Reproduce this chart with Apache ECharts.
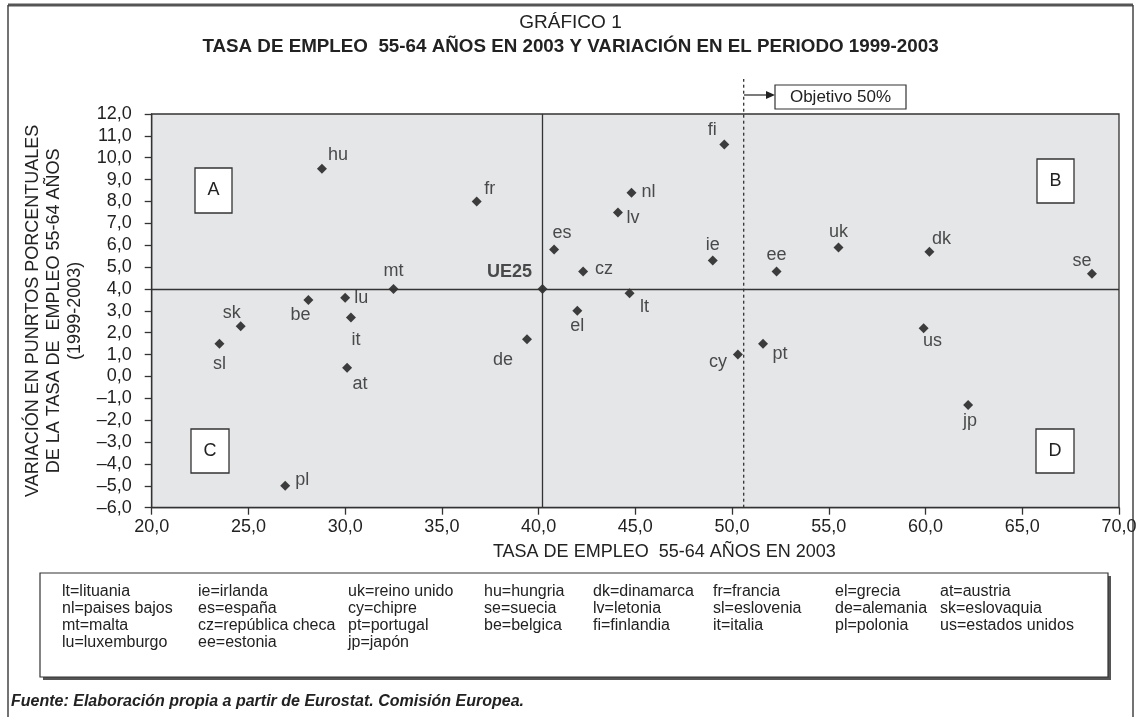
<!DOCTYPE html>
<html>
<head>
<meta charset="utf-8">
<script src="https://cdn.jsdelivr.net/npm/echarts@6/dist/echarts.min.js"></script>
<style>
html, body { margin: 0; padding: 0; background: #fff; }
#main { width: 1141px; height: 717px; }
</style>
</head>
<body>
<div id="main"></div>
<script>
// datos
var codes = ['hu', 'fr', 'mt', 'be', 'lu', 'sk', 'sl', 'it', 'at', 'de', 'pl',
             'fi', 'nl', 'lv', 'es', 'cz', 'ie', 'ee', 'uk', 'dk', 'se',
             'lt', 'el', 'cy', 'pt', 'us', 'jp'];
var tasaEmpleo2003 = [28.8, 36.8, 32.5, 28.1, 30.0, 24.6, 23.5, 30.3, 30.1, 39.4, 26.9,
                      49.6, 44.8, 44.1, 40.8, 42.3, 49.0, 52.3, 55.5, 60.2, 68.6,
                      44.7, 42.0, 50.3, 51.6, 59.9, 62.2];
var variacion9903 = [9.5, 8.0, 4.0, 3.5, 3.6, 2.3, 1.5, 2.7, 0.4, 1.7, -5.0,
                     10.6, 8.4, 7.5, 5.8, 4.8, 5.3, 4.8, 5.9, 5.7, 4.7,
                     3.8, 3.0, 1.0, 1.5, 2.2, -1.3];
var ue25 = [40.2, 4.0];
var objetivo = 50.6;

var legendRows = [
    ['lt=lituania', 'ie=irlanda', 'uk=reino unido', 'hu=hungria', 'dk=dinamarca', 'fr=francia', 'el=grecia', 'at=austria'],
    ['nl=paises bajos', 'es=españa', 'cy=chipre', 'se=suecia', 'lv=letonia', 'sl=eslovenia', 'de=alemania', 'sk=eslovaquia'],
    ['mt=malta', 'cz=república checa', 'pt=portugal', 'be=belgica', 'fi=finlandia', 'it=italia', 'pl=polonia', 'us=estados unidos'],
    ['lu=luxemburgo', 'ee=estonia', 'jp=japón']
];

// desplazamiento de cada etiqueta respecto al punto (px)
var labelOffset = {
    hu: [16, -14], fr: [13, -12], mt: [0, -18], be: [-8, 15], lu: [16, 0],
    sk: [-9, -13], sl: [0, 20], it: [5, 23], at: [13, 16], de: [-24, 21],
    pl: [17, -6], fi: [-12, -15], nl: [17, -1], lv: [15, 6], es: [8, -17],
    cz: [21, -2], ie: [0, -16], ee: [0, -16], uk: [0, -15], dk: [12, -13],
    se: [-10, -13], lt: [15, 14], el: [0, 15], cy: [-20, 7], pt: [17, 10],
    us: [9, 13], jp: [2, 16]
};

var FONT = '"Liberation Sans", Arial, Helvetica, sans-serif';
var INK = '#222';

function fmt(v) {
    return v.toFixed(1).replace('.', ',').replace('-', '\u2013');
}

var points = [];
for (var i = 0; i < codes.length; i++) {
    points.push({
        name: codes[i],
        value: [tasaEmpleo2003[i], variacion9903[i]],
        label: { offset: labelOffset[codes[i]] }
    });
}

function quadBox(x, y, w, h, letter) {
    return [
        { type: 'rect', shape: { x: x, y: y, width: w, height: h },
          style: { fill: '#fff', stroke: '#333', lineWidth: 1.3 }, z: 10 },
        { type: 'text', x: x + w / 2, y: y + h / 2, z: 11,
          style: { text: letter, fill: INK, font: '18px ' + FONT,
                   align: 'center', verticalAlign: 'middle',
                   textAlign: 'center', textVerticalAlign: 'middle' } }
    ];
}

var colX = [62, 198, 348, 484, 593, 713, 835, 940];
var rowY = [592, 609, 626, 643];
var legendTexts = [];
for (var r = 0; r < legendRows.length; r++) {
    for (var c = 0; c < legendRows[r].length; c++) {
        legendTexts.push({
            type: 'text', x: colX[c], y: rowY[r], z: 11,
            style: { text: legendRows[r][c], fill: INK, font: '16px ' + FONT,
                     verticalAlign: 'middle', textVerticalAlign: 'middle' }
        });
    }
}

var graphics = [
    // marco
    { type: 'line', shape: { x1: 8, y1: 5, x2: 1133, y2: 5 }, style: { stroke: '#555', lineWidth: 3 } },
    { type: 'line', shape: { x1: 8, y1: 5, x2: 8, y2: 717 }, style: { stroke: '#444', lineWidth: 1.5 } },
    { type: 'line', shape: { x1: 1133, y1: 5, x2: 1133, y2: 717 }, style: { stroke: '#444', lineWidth: 1.5 } },
    // objetivo 50%
    { type: 'line', shape: { x1: 744, y1: 95, x2: 768, y2: 95 }, style: { stroke: INK, lineWidth: 1.2 } },
    { type: 'polygon', shape: { points: [[775, 95], [766, 91], [766, 99]] }, style: { fill: INK } },
    { type: 'rect', shape: { x: 775, y: 85, width: 131, height: 24 },
      style: { fill: '#fff', stroke: '#333', lineWidth: 1.2 } },
    { type: 'text', x: 840.5, y: 97.5,
      style: { text: 'Objetivo 50%', fill: INK, font: '17px ' + FONT,
               align: 'center', verticalAlign: 'middle',
               textAlign: 'center', textVerticalAlign: 'middle' } },
    // cuadro de leyenda
    { type: 'rect', shape: { x: 43, y: 576, width: 1068, height: 104 }, style: { fill: '#555' }, z: 9 },
    { type: 'rect', shape: { x: 40, y: 573, width: 1068, height: 104 },
      style: { fill: '#fff', stroke: '#333', lineWidth: 1.2 }, z: 10 },
    // fuente
    { type: 'text', x: 11, y: 702,
      style: { text: 'Fuente: Elaboración propia a partir de Eurostat. Comisión Europea.',
               fill: INK, font: 'italic bold 16px ' + FONT,
               verticalAlign: 'middle', textVerticalAlign: 'middle' } }
].concat(quadBox(195, 168, 37, 45, 'A'), quadBox(1037, 159, 37, 44, 'B'),
         quadBox(191, 429, 38, 44, 'C'), quadBox(1036, 429, 38, 44, 'D'),
         legendTexts);

var chart = echarts.init(document.getElementById('main'), null, { renderer: 'canvas' });

chart.setOption({
    backgroundColor: '#fff',
    animation: false,
    textStyle: { fontFamily: FONT, color: INK },
    title: [
        { text: 'GRÁFICO 1', left: 'center', top: 8,
          textStyle: { fontWeight: 'normal', fontSize: 19, color: INK, fontFamily: FONT } },
        { text: 'TASA DE EMPLEO  55-64 AÑOS EN 2003 Y VARIACIÓN EN EL PERIODO 1999-2003',
          left: 'center', top: 32,
          textStyle: { fontWeight: 'bold', fontSize: 18.8, color: INK, fontFamily: FONT } }
    ],
    grid: {
        left: 151.7, right: 22, top: 114, bottom: 209.3,
        show: true, backgroundColor: '#e5e6e8', borderColor: '#333', borderWidth: 1.3
    },
    xAxis: {
        type: 'value', min: 20, max: 70, interval: 5,
        name: 'TASA DE EMPLEO  55-64 AÑOS EN 2003',
        nameLocation: 'middle', nameGap: 35,
        nameTextStyle: { fontSize: 18, color: INK, fontFamily: FONT, padding: [0, 0, 0, 58] },
        axisLine: { show: true, onZero: false, lineStyle: { color: '#333', width: 1.3 } },
        axisTick: { show: true, length: 7, lineStyle: { color: '#333', width: 1.3 } },
        axisLabel: { fontSize: 18, color: INK, margin: 10, formatter: fmt },
        splitLine: { show: false }
    },
    yAxis: {
        type: 'value', min: -6, max: 12, interval: 1,
        name: 'VARIACIÓN EN PUNRTOS PORCENTUALES\nDE LA TASA DE  EMPLEO 55-64 AÑOS\n(1999-2003)',
        nameLocation: 'middle', nameGap: 54, nameRotate: 90,
        nameTextStyle: { fontSize: 18, lineHeight: 21, color: INK, fontFamily: FONT, align: 'center' },
        axisLine: { show: true, onZero: false, lineStyle: { color: '#333', width: 1.3 } },
        axisTick: { show: true, length: 7, lineStyle: { color: '#333', width: 1.3 } },
        axisLabel: { fontSize: 18, color: INK, margin: 20, formatter: fmt },
        splitLine: { show: false }
    },
    series: [
        {
            // línea del objetivo 50%
            type: 'line',
            data: [[objetivo, -6], [objetivo, 13.6]],
            clip: false,
            symbol: 'none',
            silent: true,
            lineStyle: { color: '#333', width: 1.3, type: [3, 3] },
            z: 1
        },
        {
            type: 'scatter',
            data: points,
            symbol: 'diamond',
            symbolSize: 10,
            itemStyle: { color: '#111' },
            label: {
                show: true, position: 'inside', formatter: '{b}',
                color: INK, fontSize: 18, fontFamily: FONT
            },
            z: 3
        },
        {
            type: 'scatter',
            data: [{ name: 'UE25', value: ue25 }],
            symbol: 'diamond',
            symbolSize: 10,
            itemStyle: { color: '#111' },
            label: {
                show: true, position: 'inside', formatter: '{b}', offset: [-33, -17],
                color: INK, fontSize: 18, fontWeight: 'bold', fontFamily: FONT
            },
            markLine: {
                silent: true,
                symbol: ['none', 'none'],
                label: { show: false },
                lineStyle: { color: '#333', width: 1.3, type: 'solid' },
                data: [{ xAxis: ue25[0] }, { yAxis: ue25[1] }]
            },
            z: 3
        }
    ],
    graphic: graphics
});
</script>
</body>
</html>
